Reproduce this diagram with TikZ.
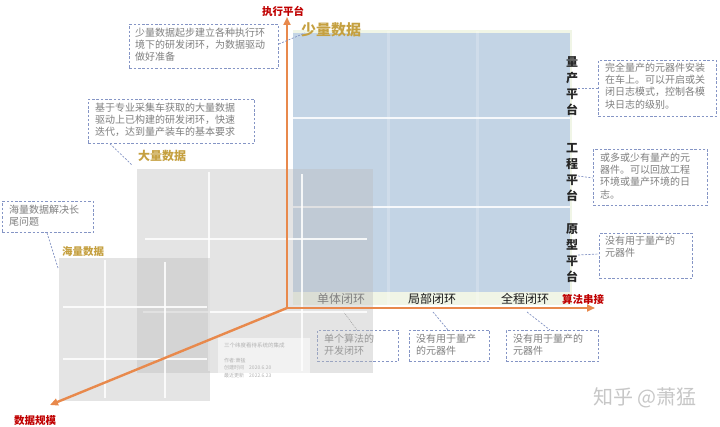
\documentclass[tikz,border=0pt]{standalone}
\usepackage{fontspec}
\setmainfont{Noto Sans CJK SC}
\usetikzlibrary{arrows.meta,calc}
\definecolor{axisor}{HTML}{E8894C}
\definecolor{axred}{HTML}{C00000}
\definecolor{goldc}{HTML}{C5A040}
\definecolor{dashblue}{HTML}{8595C5}
\definecolor{calltxt}{HTML}{7F7F7F}
\definecolor{bluefill}{HTML}{C3D4E5}
\definecolor{greenfill}{HTML}{F0F5E6}
\definecolor{grayfill}{HTML}{BDBDBD}
\tikzset{
  callbox/.style={draw=dashblue, dash pattern=on 2.5pt off 1.8pt, line width=0.8pt, inner sep=0pt, anchor=north west},
  calltext/.style={anchor=north west, font=\fontsize{10}{12.3}\selectfont, text=calltxt, align=left, inner sep=0pt},
  callline/.style={draw=dashblue, dash pattern=on 2pt off 1.5pt, line width=0.7pt},
  axisline/.style={draw=axisor, line width=2.4pt, -{Triangle[length=8pt,width=7pt]}},
  axlabel/.style={font=\fontsize{10.5}{12}\selectfont\bfseries, text=axred, inner sep=0pt},
  datalabel/.style={text=goldc, inner sep=0pt},
  platlabel/.style={font=\fontsize{12}{16}\selectfont\bfseries, text=black!85, align=center, inner sep=0pt},
  looplabel/.style={font=\fontsize{12}{14}\selectfont, text=black!90, inner sep=0pt},
  gridline/.style={draw=white, line width=1.6pt, opacity=0.85},
  region/.style={fill=grayfill, fill opacity=0.4, draw=none}
}
\begin{document}
\begin{tikzpicture}[x=1pt,y=-1pt]
\useasboundingbox (0,0) rectangle (720,427);
\fill[white] (0,0) rectangle (720,427);

% few-data platform block
\fill[greenfill] (293,30) rectangle (572,305);
\fill[bluefill] (293,33) rectangle (570,292);
\draw[white, line width=2pt, opacity=0.85] (293,118) -- (570,118);
\draw[white, line width=2pt, opacity=0.85] (293,207) -- (570,207);
\draw[white, line width=3pt, opacity=0.2] (388,31) -- (388,305);
\draw[white, line width=3pt, opacity=0.2] (477,31) -- (477,305);

% loop label and callout under the grey overlay
\node[looplabel, text=black!65] (l1) at (341,299) {单体闭环};
\node[callbox, minimum width=81pt, minimum height=31pt] (b7) at (317,330) {};
\node[calltext] (t7) at ($(b7.north west)+(7,3.5)$) {单个算法的\\开发闭环};
\coordinate (c7) at (343,311);
\draw[draw=gray, dash pattern=on 1pt off 1pt, line width=0.5pt] (c7) -- (b7.north west -| 357,330);

% grey data regions
\fill[region] (137,169) rectangle (373,373);
\draw[gridline] (209,172) -- (209,371);
\draw[gridline] (302,174) -- (302,371);
\draw[gridline] (145,239) -- (367,239);
\draw[gridline] (143,312) -- (367,312);
\fill[region] (59,258) rectangle (210,401);
\draw[gridline] (105,260) -- (105,398);
\draw[gridline] (165,262) -- (165,398);
\draw[gridline] (63,307) -- (207,307);
\draw[gridline] (63,359) -- (207,359);

% card
\node[fill=white, fill opacity=0.55, draw=none, minimum width=92pt, minimum height=44pt, anchor=north west, inner sep=0pt] (card) at (218,338) {};
\node[anchor=west, inner sep=0pt, font=\fontsize{5.5}{6}\selectfont, text=black!30] (card1) at (224,345) {三个纬度看待系统的集成};
\node[anchor=west, inner sep=0pt, font=\fontsize{5}{7.6}\selectfont, text=black!30, align=left] (card2) at (224,368) {作者:萧猛\\创建时间\quad 2020.6.20\\最近更新\quad 2022.6.23};

% axes
\coordinate (O) at (287,308);
\coordinate (ytip) at (287,17);
\coordinate (xtip) at (595,308);
\coordinate (ztip) at (50,405);
\draw[axisline] (O) -- (ytip);
\draw[axisline] (O) -- (xtip);
\draw[axisline] (O) -- (ztip);
\node[axlabel] (ylab) at (283,11) {执行平台};
\node[axlabel] (xlab) at (583,299) {算法串接};
\node[axlabel] (zlab) at (35,421) {数据规模};

% data labels
\node[datalabel, font=\fontsize{15}{16}\selectfont\bfseries] (d1) at (331,30) {少量数据};
\node[datalabel, font=\fontsize{12}{14}\selectfont\bfseries] (d2) at (162,156) {大量数据};
\node[datalabel, font=\fontsize{10.5}{12}\selectfont\bfseries] (d3) at (83,252) {海量数据};

% platform labels
\node[platlabel] (p1) at (572,86) {量\\产\\平\\台};
\node[platlabel] (p2) at (572,173) {工\\程\\平\\台};
\node[platlabel] (p3) at (572,253) {原\\型\\平\\台};

% loop labels
\node[looplabel] (l2) at (432,299) {局部闭环};
\node[looplabel] (l3) at (525,299) {全程闭环};

% callouts
\node[callbox, minimum width=149pt, minimum height=44pt] (b1) at (129,24) {};
\node[calltext] (t1) at ($(b1.north west)+(6,3.5)$) {少量数据起步建立各种执行环\\境下的研发闭环，为数据驱动\\做好准备};
\coordinate (c1) at (305,33);
\draw[callline] (b1.east |- 0,44) -- (c1);

\node[callbox, minimum width=166pt, minimum height=44pt] (b2) at (88,99) {};
\node[calltext] (t2) at ($(b2.north west)+(7,3.5)$) {基于专业采集车获取的大量数据\\驱动上已构建的研发闭环，快速\\迭代，达到量产装车的基本要求};
\coordinate (c2) at (132,165);
\draw[callline] (b2.south west -| 110,143) -- (c2);

\node[callbox, minimum width=91pt, minimum height=31pt] (b3) at (2,201) {};
\node[calltext] (t3) at ($(b3.north west)+(7,3.5)$) {海量数据解决长\\尾问题};
\coordinate (c3) at (58,268);
\draw[callline] (b3.south west -| 47,232) -- (c3);

\node[callbox, minimum width=118pt, minimum height=56pt] (b4) at (598,60) {};
\node[calltext] (t4) at ($(b4.north west)+(7,2.5)$) {完全量产的元器件安装\\在车上。可以开启或关\\闭日志模式，控制各模\\块日志的级别。};
\coordinate (c4) at (578,88);
\draw[callline] (c4) -- (b4.west |- 0,88);

\node[callbox, minimum width=114pt, minimum height=56pt] (b5) at (593,149) {};
\node[calltext] (t5) at ($(b5.north west)+(7,3.5)$) {或多或少有量产的元\\器件。可以回放工程\\环境或量产环境的日\\志。};
\coordinate (c5) at (578,176);
\draw[callline] (c5) -- (b5.west |- 0,178);

\node[callbox, minimum width=93pt, minimum height=45pt] (b6) at (599,233) {};
\node[calltext] (t6) at ($(b6.north west)+(6,2.5)$) {没有用于量产的\\元器件};
\coordinate (c6) at (578,255);
\draw[callline] (c6) -- (b6.west |- 0,254);

\node[callbox, minimum width=80pt, minimum height=31pt] (b8) at (409,330) {};
\node[calltext] (t8) at ($(b8.north west)+(7,3.5)$) {没有用于量产\\的元器件};
\coordinate (c8) at (433,312);
\draw[callline] (c8) -- (b8.north west -| 448,330);

\node[callbox, minimum width=92pt, minimum height=31pt] (b9) at (506,330) {};
\node[calltext] (t9) at ($(b9.north west)+(7,3.5)$) {没有用于量产的\\元器件};
\coordinate (c9) at (527,312);
\draw[callline] (c9) -- (b9.north west -| 550,330);

% watermark
\node[font=\fontsize{20}{22}\selectfont, text=black!22, inner sep=0pt] (wm) at (645,398) {知乎 @萧猛};
\end{tikzpicture}
\end{document}
